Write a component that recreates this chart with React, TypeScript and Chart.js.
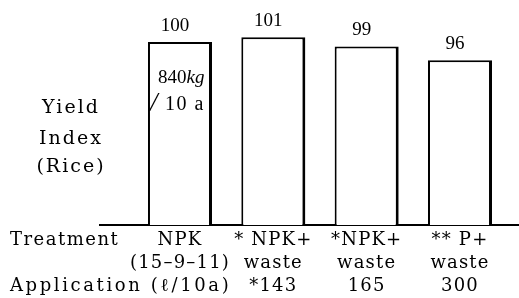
import React, { useEffect, useRef } from "react";
import { Chart, registerables } from "chart.js";

Chart.register(...registerables);

// ---- data ----
const categories = ["NPK", "* NPK+ waste", "*NPK+ waste", "** P+ waste"];
const treatmentLine1 = ["NPK", "* NPK+", "*NPK+", "** P+"];
const treatmentLine2 = ["(15–9–11)", "waste", "waste", "waste"];
const applicationRates = ["", "*143", "165", "300"];
const yieldIndex = [100, 101, 99, 96];
const yTitleLines = ["Yield", "Index", "(Rice)"];
const rowLabels = ["Treatment", "", "Application (ℓ/10a)"];
const rowLabelSpacing = ["1.5px", "0px", "2.6px"];
const baseYieldNumber = "840";
const baseYieldUnit = "kg";
const baseYieldSlash = "/";
const baseYieldArea = "10 a";

const SERIF = "'DejaVu Serif', serif";
const TIMES = "'Liberation Serif', serif";
const LINE_H = 23;
const TICK_PAD = 4;

const annotate = {
  id: "annotate",
  beforeDraw(chart: any) {
    (chart.ctx as any).letterSpacing = "1.2px";
  },
  afterDraw(chart: any) {
    const ctx = chart.ctx as CanvasRenderingContext2D;
    (ctx as any).letterSpacing = "0px";
    const meta = chart.getDatasetMeta(0);
    const xs = chart.scales.x;
    const area = chart.chartArea;
    ctx.save();
    ctx.fillStyle = "#000";

    // value labels above bars
    ctx.font = `19px ${TIMES}`;
    ctx.textAlign = "center";
    ctx.textBaseline = "alphabetic";
    meta.data.forEach((bar: any, i: number) => {
      ctx.fillText(String(yieldIndex[i]), bar.x - 5, bar.y - 11);
    });

    // text inside first bar
    const b0 = meta.data[0];
    ctx.textAlign = "left";
    ctx.font = `19px ${TIMES}`;
    const nx = b0.x - 22;
    ctx.fillText(baseYieldNumber, nx, b0.y + 41);
    const w = ctx.measureText(baseYieldNumber).width;
    ctx.font = `italic 19px ${TIMES}`;
    ctx.fillText(baseYieldUnit, nx + w, b0.y + 41);
    ctx.font = `italic 27px ${TIMES}`;
    ctx.fillText(baseYieldSlash, b0.x - 30, b0.y + 69);
    ctx.font = `20px ${TIMES}`;
    (ctx as any).letterSpacing = "1.5px";
    ctx.fillText(baseYieldArea, b0.x - 15, b0.y + 68);

    // y axis title
    (ctx as any).letterSpacing = "2px";
    ctx.font = `19px ${SERIF}`;
    ctx.textAlign = "center";
    const tx = area.left - 29;
    const ty = [area.top + 94, area.top + 125, area.top + 153];
    yTitleLines.forEach((t, i) => ctx.fillText(t, tx, ty[i]));

    // row labels at bottom
    ctx.font = `18px ${SERIF}`;
    ctx.textAlign = "left";
    ctx.textBaseline = "middle";
    rowLabels.forEach((t, i) => {
      if (!t) return;
      (ctx as any).letterSpacing = rowLabelSpacing[i];
      ctx.fillText(t, 10, xs.top + TICK_PAD + LINE_H / 2 + i * LINE_H);
    });
    ctx.restore();
  },
};

export default function App() {
  const ref = useRef<HTMLCanvasElement | null>(null);
  useEffect(() => {
    if (!ref.current) return;
    const chart = new Chart(ref.current, {
      type: "bar",
      data: {
        datasets: [
          {
            label: "Yield Index",
            data: yieldIndex.map((v, i) => ({ x: i, y: v })),
            backgroundColor: "#ffffff",
            borderColor: "#000000",
            borderWidth: { top: 2, left: 2, right: 3, bottom: 0 },
            borderSkipped: "bottom",
            categoryPercentage: 1,
            barPercentage: 0.686,
          },
        ],
      },
      options: {
        animation: false,
        responsive: false,
        layout: { padding: { left: 100, top: 19, right: 0, bottom: 0 } },
        plugins: { legend: { display: false }, tooltip: { enabled: false } },
        scales: {
          x: {
            type: "linear",
            min: -0.857,
            max: 3.632,
            bounds: "data",
            offset: false,
            grid: { display: false, drawTicks: false },
            border: { display: true, color: "#000", width: 2 },
            afterBuildTicks: (axis: any) => {
              axis.ticks = categories.map((_, i) => ({ value: i }));
            },
            afterFit: (axis: any) => {
              axis.height = 73;
            },
            ticks: {
              autoSkip: false,
              maxRotation: 0,
              minRotation: 0,
              padding: TICK_PAD,
              color: "#000",
              font: { family: SERIF, size: 18, lineHeight: `${LINE_H}px` },
              callback: (value: any) => {
                const i = Number(value);
                return [treatmentLine1[i], treatmentLine2[i], applicationRates[i]];
              },
            },
          },
          y: { display: false, min: 60, max: 105 },
        },
      },
      plugins: [annotate],
    } as any);
    return () => chart.destroy();
  }, []);
  return (
    <div style={{ position: "absolute", left: 0, top: 0, width: 519, height: 298, background: "#fff" }}>
      <canvas ref={ref} width={519} height={298} />
    </div>
  );
}
